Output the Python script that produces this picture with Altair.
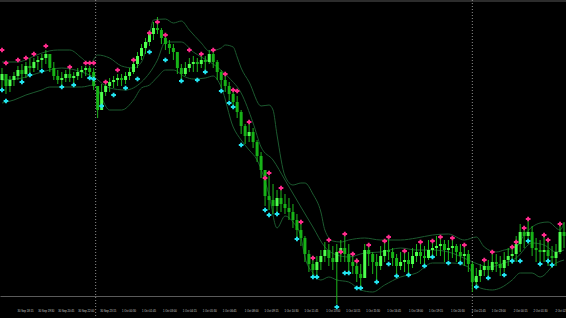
import altair as alt
import pandas as pd

# ---- price data (points), one candle per bar ----
close_p = [226,214,220,224,230,226,234,232,238,240,242,246,
           232,224,220,222,226,222,224,228,230,232,228,214,
           190,208,214,218,220,222,220,224,228,236,244,252,
           258,266,272,270,262,256,252,248,232,226,232,236,
           238,236,240,238,246,238,228,220,214,206,198,188,
           174,164,168,158,144,130,104,100,94,102,96,92,
           88,80,70,62,46,36,30,38,44,50,42,38,
           48,52,46,38,34,26,22,50,46,38,34,44,
           50,48,42,34,38,40,36,44,48,44,42,50,
           52,54,56,50,52,54,48,44,46,36,18,24,
           30,34,30,38,36,32,40,44,46,56,68,64,
           68,52,50,48,50,44,42,48,68,64]
high_p = [232,222,224,228,234,236,238,242,242,244,246,250,
          244,238,230,228,230,232,228,232,234,234,234,232,
          214,216,218,222,224,226,226,228,232,240,248,256,
          262,270,278,283,272,266,260,256,246,236,238,242,
          244,242,246,244,250,248,240,230,226,218,210,204,
          190,176,176,172,160,148,130,124,116,110,110,106,
          102,96,86,76,64,50,44,44,50,58,56,54,
          56,60,64,56,48,42,36,56,56,48,46,54,
          60,62,52,46,48,50,48,52,56,58,54,60,
          60,64,64,60,60,62,56,56,54,50,38,32,
          36,42,40,48,46,44,48,52,54,64,76,74,
          80,74,62,60,64,60,54,56,76,78]
low_p = [212,206,208,214,220,218,222,226,228,230,232,236,
         228,220,216,214,218,218,216,220,222,224,222,210,
         182,200,204,208,212,214,214,216,220,226,232,240,
         246,254,260,266,256,250,246,240,226,220,224,228,
         228,228,232,230,236,232,220,212,208,200,192,182,
         166,156,158,152,138,122,94,90,86,88,88,86,
         80,72,62,54,38,28,24,24,30,38,34,30,
         -4,38,38,28,26,18,12,28,34,26,20,30,
         38,40,34,26,30,28,26,32,38,36,34,40,
         42,44,44,38,40,42,38,36,34,28,8,12,
         18,24,20,28,28,24,28,34,36,38,48,52,
         56,44,38,36,38,34,32,34,46,52]
first_open = 220

# ---- fractal markers (bar, price) ----
up_bar = [0,1,4,6,8,11,17,21,22,23,26,29,33,37,39,41,47,50,53,56,58,59,62,66,67,70,75,78,
          82,85,86,88,89,92,96,97,101,105,108,110,113,116,121,123,128,129,131,132,136,137,140]
up_price = [250,237,240,242,246,254,233,237,237,237,218,230,240,267,278,265,250,246,250,226,210,209,
            178,122,127,112,78,42,60,48,66,46,39,55,59,63,49,58,59,63,62,55,40,48,53,58,72,81,65,60,76]
dn_bar = [0,1,5,7,10,15,18,22,23,25,28,31,34,37,41,45,49,51,55,57,58,60,66,67,69,74,78,79,84,86,
          87,89,90,94,97,99,102,106,108,112,115,119,122,126,128,130,132,135,137,138]
dn_price = [210,199,218,225,229,213,215,222,221,194,205,212,221,248,240,219,220,228,209,197,193,155,
            90,85,86,61,23,23,-7,27,27,12,12,18,36,24,25,34,43,37,37,13,22,25,39,39,59,36,39,35]

# ---- Bollinger bands, sampled points ----
upper_bar = [0,4,7,10,14,17,20,22,24,27,30,33,35,37,38,41,43,45,47,50,52,55,56,58,59,60,62,65,67,68,
             69,71,73,75,76,78,80,81,83,85,87,91,95,100,104,108,112,116,119,121,124,126,129,131,135,
             137,140,141]
upper_price = [238,238,242,247,250,250,242,236,245,242,234,232,238,265,280,281,277,279,270,257,249,252,
               255,253,243,232,218,194,195,190,165,124,115,117,117,106,88,70,59,58,60,62,60,60,62,65,
               66,60,63,53,48,50,53,65,77,78,70,77]
mid_bar = [0,5,10,15,20,23,27,31,35,39,41,45,48,50,54,57,60,63,65,68,71,75,78,81,84,87,91,95,100,
           104,108,112,117,120,122,126,129,133,136,139,141]
mid_price = [220,222,228,232,228,223,212,210,218,240,258,258,248,243,233,222,207,177,153,140,120,93,
             73,53,45,43,47,48,52,50,50,48,40,35,33,37,42,57,55,48,50]
lower_bar = [0,3,6,10,12,16,20,23,27,30,33,35,37,39,41,43,46,48,51,53,55,58,60,62,64,67,69,71,73,75,
             76,78,80,82,84,87,90,93,96,100,104,108,113,117,119,120,123,125,128,130,133,135,139,141]
lower_price = [197,200,205,210,213,213,213,215,190,190,200,212,215,223,230,230,223,221,222,224,213,
               173,160,150,140,105,72,84,78,63,43,27,20,23,20,18,10,8,15,23,27,37,37,33,17,12,10,12,
               20,27,27,23,37,40]

# ---- time axis ----
separator_bar = [23.5, 118]
tick_bar = [3.5, 8.75, 13.75, 18.75, 24.25, 29.75, 34.75, 40, 45, 50, 55, 60.5, 65.5, 70.5, 75.5,
            81, 86, 91, 96.25, 101.75, 106.75, 112.25, 117.5, 122.5, 128, 133, 138.5]
tick_text = ["30 Sep 18:15", "30 Sep 19:30", "30 Sep 20:45", "30 Sep 22:00", "30 Sep 23:15",
             "1 Oct 00:30", "1 Oct 01:45", "1 Oct 03:00", "1 Oct 04:15", "1 Oct 05:30", "1 Oct 06:45",
             "1 Oct 08:00", "1 Oct 09:15", "1 Oct 10:30", "1 Oct 11:45", "1 Oct 13:00", "1 Oct 14:15",
             "1 Oct 15:30", "1 Oct 16:45", "1 Oct 18:00", "1 Oct 19:15", "1 Oct 20:30", "1 Oct 21:45",
             "1 Oct 23:00", "2 Oct 00:15", "2 Oct 01:30", "2 Oct 02:45"]

assert len(close_p) == len(high_p) == len(low_p)
assert len(up_bar) == len(up_price) and len(dn_bar) == len(dn_price)
assert len(upper_bar) == len(upper_price) and len(mid_bar) == len(mid_price)
assert len(lower_bar) == len(lower_price) and len(tick_bar) == len(tick_text)

n = len(close_p)
open_p = [first_open] + close_p[:-1]
candles = pd.DataFrame({
    "bar": list(range(n)), "open": open_p, "close": close_p, "high": high_p, "low": low_p,
    "dir": ["up" if c >= o else "down" for o, c in zip(open_p, close_p)],
})

label_expr = "[" + ",".join("'%s'" % t for t in tick_text) + "][indexof([" + \
    ",".join(str(v) for v in tick_bar) + "], datum.value)]"

x_axis = alt.Axis(values=tick_bar, labelExpr=label_expr, grid=False, ticks=False,
                  domainColor="#5a5a5a", domainWidth=1, offset=-22,
                  labelColor="#d0d0d0", labelFontSize=2.7, labelFont="Liberation Sans",
                  labelAlign="left", labelBaseline="middle", labelPadding=15, labelOffset=1,
                  labelOverlap=False, labelBound=False, labelFlush=False, title=None)
x_scale = alt.Scale(domain=[-0.5, n - 0.5], nice=False, zero=False)
y_scale = alt.Scale(domain=[-18, 300], nice=False, zero=False)


def X():
    return alt.X("bar:Q", scale=x_scale, axis=x_axis, title=None)


def Y(field):
    return alt.Y(field + ":Q", scale=y_scale, axis=None, title=None)


def band(bars, prices):
    df = pd.DataFrame({"bar": bars, "price": prices})
    return alt.Chart(df).mark_line(color="#1c5a2f", strokeWidth=1, interpolate="monotone").encode(
        x=X(), y=Y("price"))


top_strip = alt.Chart(pd.DataFrame({"k": [0]})).mark_rule(color="#2c2c2c", strokeWidth=2).encode(
    y=alt.value(1), x=alt.value(0), x2=alt.value(566))

seps = alt.Chart(pd.DataFrame({"bar": separator_bar})).mark_rule(
    color="#8c8c8c", strokeDash=[1, 2], strokeWidth=1).encode(x=X())

wicks = alt.Chart(candles).mark_rule(color="#1cb81c", strokeWidth=1).encode(
    x=X(), y=Y("low"), y2="high")

bodies = alt.Chart(candles).mark_rule(strokeWidth=3).encode(
    x=X(), y=Y("open"), y2="close",
    color=alt.Color("dir:N", scale=alt.Scale(domain=["up", "down"], range=["#4dff4d", "#17b317"]),
                    legend=None))

ups = alt.Chart(pd.DataFrame({"bar": up_bar, "price": up_price})).mark_point(
    shape="cross", filled=True, size=22, color="#ff2a8c", opacity=1).encode(x=X(), y=Y("price"))
dns = alt.Chart(pd.DataFrame({"bar": dn_bar, "price": dn_price})).mark_point(
    shape="cross", filled=True, size=22, color="#22e4f0", opacity=1).encode(x=X(), y=Y("price"))

chart = alt.layer(
    top_strip, band(upper_bar, upper_price), band(mid_bar, mid_price), band(lower_bar, lower_price),
    seps, wicks, bodies, ups, dns
).properties(width=566, height=318, padding=0, autosize=alt.AutoSizeParams(type="none"),
             background="#000000").configure_view(strokeWidth=0)

chart.save("out.html", embed_options={"renderer": "svg", "actions": False})
